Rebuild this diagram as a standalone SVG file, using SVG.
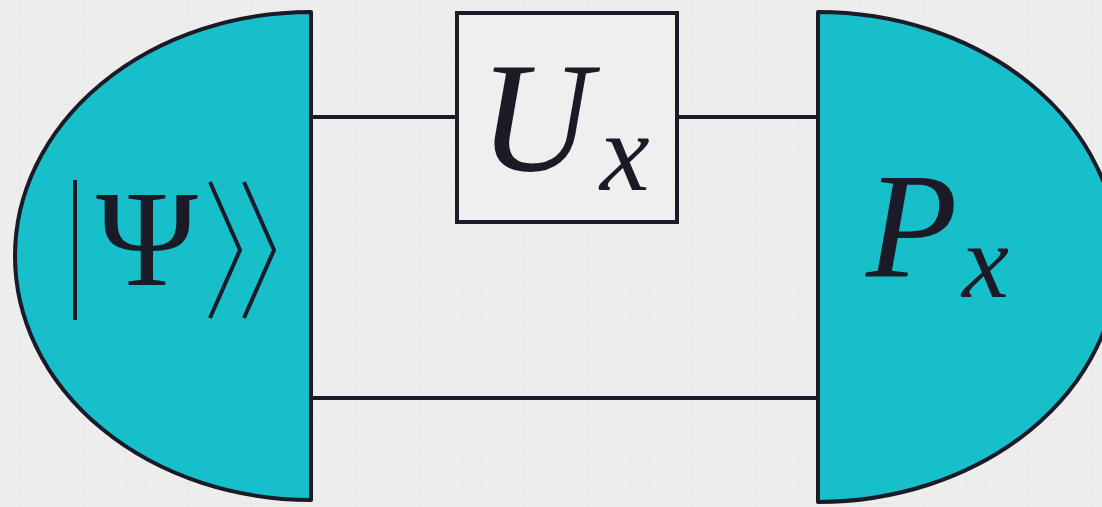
<svg xmlns="http://www.w3.org/2000/svg" width="1102" height="507" viewBox="0 0 1102 507">
<defs>
<pattern id="grid" width="21" height="21" patternUnits="userSpaceOnUse">
<path d="M21 0V21M0 21H21" fill="none" stroke="#e1e3e6" stroke-width="1"/>
</pattern>
</defs>
<style>
.shape{fill:#17bfcb;stroke:#1b1b28;stroke-width:4;stroke-linejoin:round}
.wire{stroke:#1b1b28;stroke-width:4;fill:none}
.box{fill:#efefef;stroke:#1b1b28;stroke-width:4}
.t{font-family:"Liberation Serif","DejaVu Serif",serif;fill:#1b1b28}
.it{font-style:italic}
</style>
<rect width="1102" height="507" fill="#ededed"/>
<rect width="1102" height="507" fill="url(#grid)"/>
<g id="connectors">
<line class="wire" x1="311" y1="117" x2="457" y2="117"/>
<line class="wire" x1="677" y1="117" x2="818" y2="117"/>
<line class="wire" x1="311" y1="398" x2="818" y2="398"/>
</g>
<g id="state">
<path class="shape" d="M311,12 L311,500 A296,244 0 0 1 311,12 Z"/>
<line x1="75" y1="180" x2="75" y2="320" stroke="#1b1b28" stroke-width="4"/>
<text class="t" x="147" y="285" font-size="138" text-anchor="middle">Ψ</text>
<path d="M210,182 L240,250 L210,318 M244,182 L274,250 L244,318" fill="none" stroke="#1b1b28" stroke-width="4"/>
</g>
<g id="unitary">
<rect class="box" x="457" y="13" width="220" height="209"/>
<text class="t it" x="479" y="170" font-size="156">U</text>
<text class="t it" x="600" y="190" font-size="112">x</text>
</g>
<g id="measurement">
<path class="shape" d="M818,12 A300,245 0 0 1 818,502 Z"/>
<text class="t it" x="866" y="277" font-size="150">P</text>
<text class="t it" x="962" y="297" font-size="106">x</text>
</g>
</svg>
